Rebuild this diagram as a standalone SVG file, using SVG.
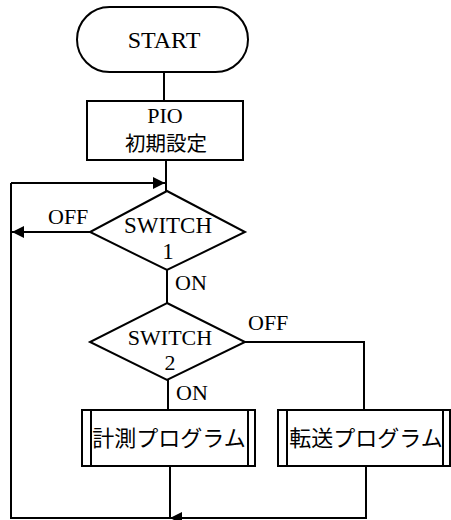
<svg xmlns="http://www.w3.org/2000/svg" width="451" height="520" viewBox="0 0 451 520">
<style>
.s{fill:#fff;stroke:#000;stroke-width:2}
.l{fill:none;stroke:#000;stroke-width:2}
.t{font-family:"Liberation Serif","Noto Sans CJK JP",serif;font-size:23px;fill:#000;text-anchor:middle}
.j{font-family:"Liberation Serif","Noto Sans CJK JP",serif;font-size:20.5px;fill:#000;text-anchor:middle}
.p{font-family:"Liberation Serif","Noto Sans CJK JP",serif;font-size:22px;fill:#000;text-anchor:middle}
.lb{font-family:"Liberation Serif",serif;font-size:22px;fill:#000}
</style>
<defs>
<marker id="ah" viewBox="0 0 10 10" refX="10" refY="5" markerWidth="12" markerHeight="12" markerUnits="userSpaceOnUse" orient="auto">
<path d="M0,0 L10,5 L0,10 z" fill="#000"/>
</marker>
</defs>
<g id="connectors">
<line class="l" x1="164" y1="72" x2="164" y2="101"/>
<line class="l" x1="166" y1="160" x2="166" y2="191"/>
<polyline class="l" points="11,232 11,518 366,518 366,466"/>
<line class="l" x1="11" y1="183" x2="165" y2="183" marker-end="url(#ah)"/>
<line class="l" x1="90" y1="232" x2="12" y2="232" marker-end="url(#ah)"/>
<line class="l" x1="11" y1="183" x2="11" y2="232"/>
<line class="l" x1="167" y1="270" x2="167" y2="303"/>
<polyline class="l" points="245,342 364,342 364,410"/>
<line class="l" x1="168" y1="380" x2="168" y2="410"/>
<line class="l" x1="170" y1="466" x2="170" y2="518"/>
<line class="l" x1="184" y1="518" x2="170" y2="518" marker-end="url(#ah)"/>
<text class="lb" x="48" y="224">OFF</text>
<text class="lb" x="175" y="290">ON</text>
<text class="lb" x="248" y="330">OFF</text>
<text class="lb" x="176" y="400">ON</text>
</g>
<g id="start">
<rect class="s" x="77" y="7" width="171" height="65" rx="32.5" ry="32.5"/>
<text class="t" x="164" y="48" style="font-size:24px">START</text>
</g>
<g id="pio">
<rect class="s" x="87" y="101" width="156" height="59"/>
<text class="t" x="165" y="123" style="font-size:22px">PIO</text>
<text class="j" x="166" y="151">初期設定</text>
</g>
<g id="switch1">
<polygon class="s" points="167,191 245,232 167,270 90,232"/>
<text class="t" x="168" y="233">SWITCH</text>
<text class="t" x="168" y="259">1</text>
</g>
<g id="switch2">
<polygon class="s" points="167,303 245,342 167,380 90,342"/>
<text class="t" x="170" y="345" style="font-size:22px">SWITCH</text>
<text class="t" x="170" y="370" style="font-size:22px">2</text>
</g>
<g id="keisoku">
<rect class="s" x="82" y="410" width="173" height="56"/>
<line class="l" x1="91" y1="410" x2="91" y2="466"/>
<line class="l" x1="248" y1="410" x2="248" y2="466"/>
<text class="p" x="169" y="446">計測プログラム</text>
</g>
<g id="tensou">
<rect class="s" x="278" y="410" width="172" height="56"/>
<line class="l" x1="287" y1="410" x2="287" y2="466"/>
<line class="l" x1="443" y1="410" x2="443" y2="466"/>
<text class="p" x="366" y="446">転送プログラム</text>
</g>
</svg>
